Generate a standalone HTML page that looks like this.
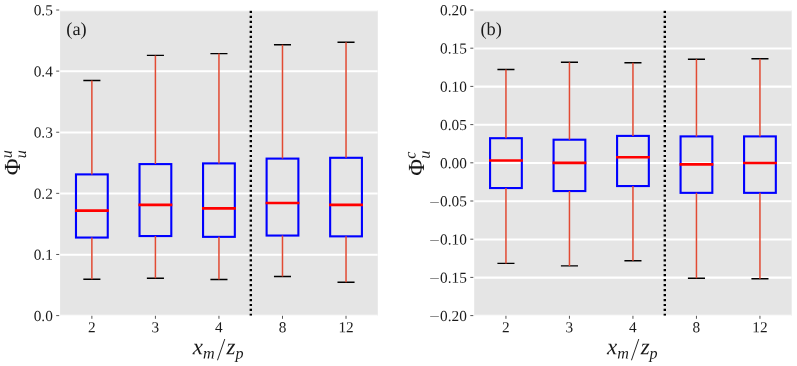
<!DOCTYPE html>
<html><head><meta charset="utf-8"><title>boxplots</title>
<style>
html,body{margin:0;padding:0;background:#fff}
svg{display:block}
text{text-rendering:geometricPrecision;font-family:"Liberation Serif","DejaVu Serif",serif;fill:#1a1a1a}
.t{font-size:15.3px}
.i{font-style:italic}
</style></head><body>
<svg width="797" height="366" viewBox="0 0 797 366">
<rect width="797" height="366" fill="#fff"/>
<clipPath id="c0"><rect x="60.1" y="10.2" width="317.70" height="305.60"/></clipPath>
<rect x="60.1" y="10.2" width="317.70" height="305.60" fill="#e5e5e5"/>
<g clip-path="url(#c0)">
<line x1="60.1" x2="377.8" y1="315.80" y2="315.80" stroke="#fff" stroke-width="2.05"/>
<line x1="60.1" x2="377.8" y1="254.68" y2="254.68" stroke="#fff" stroke-width="2.05"/>
<line x1="60.1" x2="377.8" y1="193.56" y2="193.56" stroke="#fff" stroke-width="2.05"/>
<line x1="60.1" x2="377.8" y1="132.44" y2="132.44" stroke="#fff" stroke-width="2.05"/>
<line x1="60.1" x2="377.8" y1="71.32" y2="71.32" stroke="#fff" stroke-width="2.05"/>
<line x1="60.1" x2="377.8" y1="10.20" y2="10.20" stroke="#fff" stroke-width="2.05"/>
<line x1="250.82" x2="250.82" y1="10.84" y2="315.8" stroke="#000" stroke-width="2.4" stroke-dasharray="2.2 2.767"/>
<path d="M83.33 80.55H100.41M83.33 279.20H100.41" stroke="#000" stroke-width="1.4" fill="none"/>
<rect x="75.98" y="174.40" width="31.77" height="63.15" stroke="#0000ff" stroke-width="2.1" fill="none"/>
<path d="M91.87 80.55V174.40M91.87 237.55V279.20" stroke="#e24a33" stroke-width="1.5" fill="none"/>
<line x1="74.94" x2="108.81" y1="210.60" y2="210.60" stroke="#ff0000" stroke-width="2.6"/>
<path d="M146.87 55.40H163.95M146.87 278.20H163.95" stroke="#000" stroke-width="1.4" fill="none"/>
<rect x="139.53" y="164.10" width="31.77" height="71.95" stroke="#0000ff" stroke-width="2.1" fill="none"/>
<path d="M155.41 55.40V164.10M155.41 236.05V278.20" stroke="#e24a33" stroke-width="1.5" fill="none"/>
<line x1="138.47" x2="172.34" y1="204.85" y2="204.85" stroke="#ff0000" stroke-width="2.6"/>
<path d="M210.41 53.60H227.49M210.41 279.50H227.49" stroke="#000" stroke-width="1.4" fill="none"/>
<rect x="203.06" y="163.40" width="31.77" height="73.45" stroke="#0000ff" stroke-width="2.1" fill="none"/>
<path d="M218.95 53.60V163.40M218.95 236.85V279.50" stroke="#e24a33" stroke-width="1.5" fill="none"/>
<line x1="202.01" x2="235.88" y1="208.35" y2="208.35" stroke="#ff0000" stroke-width="2.6"/>
<path d="M273.95 44.70H291.03M273.95 276.50H291.03" stroke="#000" stroke-width="1.4" fill="none"/>
<rect x="266.61" y="158.60" width="31.77" height="76.95" stroke="#0000ff" stroke-width="2.1" fill="none"/>
<path d="M282.49 44.70V158.60M282.49 235.55V276.50" stroke="#e24a33" stroke-width="1.5" fill="none"/>
<line x1="265.56" x2="299.43" y1="203.05" y2="203.05" stroke="#ff0000" stroke-width="2.6"/>
<path d="M337.49 42.20H354.57M337.49 282.30H354.57" stroke="#000" stroke-width="1.4" fill="none"/>
<rect x="330.15" y="157.80" width="31.77" height="78.55" stroke="#0000ff" stroke-width="2.1" fill="none"/>
<path d="M346.03 42.20V157.80M346.03 236.35V282.30" stroke="#e24a33" stroke-width="1.5" fill="none"/>
<line x1="329.10" x2="362.97" y1="204.85" y2="204.85" stroke="#ff0000" stroke-width="2.6"/>
</g>
<line x1="56.20" x2="59.20" y1="315.60" y2="315.60" stroke="#555" stroke-width="1"/>
<text class="t" transform="translate(52.80,320.95) rotate(0.03)" text-anchor="end">0.0</text>
<line x1="56.20" x2="59.20" y1="254.48" y2="254.48" stroke="#555" stroke-width="1"/>
<text class="t" transform="translate(52.80,259.83) rotate(0.03)" text-anchor="end">0.1</text>
<line x1="56.20" x2="59.20" y1="193.36" y2="193.36" stroke="#555" stroke-width="1"/>
<text class="t" transform="translate(52.80,198.71) rotate(0.03)" text-anchor="end">0.2</text>
<line x1="56.20" x2="59.20" y1="132.24" y2="132.24" stroke="#555" stroke-width="1"/>
<text class="t" transform="translate(52.80,137.59) rotate(0.03)" text-anchor="end">0.3</text>
<line x1="56.20" x2="59.20" y1="71.12" y2="71.12" stroke="#555" stroke-width="1"/>
<text class="t" transform="translate(52.80,76.47) rotate(0.03)" text-anchor="end">0.4</text>
<line x1="56.20" x2="59.20" y1="10.00" y2="10.00" stroke="#555" stroke-width="1"/>
<text class="t" transform="translate(52.80,15.35) rotate(0.03)" text-anchor="end">0.5</text>
<line x1="91.87" x2="91.87" y1="315.8" y2="318.8" stroke="#555" stroke-width="1"/>
<text class="t" transform="translate(91.87,332.3) rotate(0.03)" text-anchor="middle">2</text>
<line x1="155.41" x2="155.41" y1="315.8" y2="318.8" stroke="#555" stroke-width="1"/>
<text class="t" transform="translate(155.41,332.3) rotate(0.03)" text-anchor="middle">3</text>
<line x1="218.95" x2="218.95" y1="315.8" y2="318.8" stroke="#555" stroke-width="1"/>
<text class="t" transform="translate(218.95,332.3) rotate(0.03)" text-anchor="middle">4</text>
<line x1="282.49" x2="282.49" y1="315.8" y2="318.8" stroke="#555" stroke-width="1"/>
<text class="t" transform="translate(282.49,332.3) rotate(0.03)" text-anchor="middle">8</text>
<line x1="346.03" x2="346.03" y1="315.8" y2="318.8" stroke="#555" stroke-width="1"/>
<text class="t" transform="translate(346.03,332.3) rotate(0.03)" text-anchor="middle">12</text>
<text transform="translate(66.30,35) rotate(0.03)" font-size="18.4px">(a)</text>
<text class="i" transform="translate(192.80,354.3) rotate(0.03)" font-size="23px">x</text>
<text class="i" transform="translate(203.10,358.4) rotate(0.03)" font-size="16.1px">m</text>
<text transform="translate(216.90,359.6) rotate(0.03) skewX(-7.5) scale(0.9,1.45)" font-size="22px">/</text>
<text class="i" transform="translate(226.60,354.3) rotate(0.03)" font-size="23px">z</text>
<text class="i" transform="translate(235.50,358.6) rotate(0.03)" font-size="16.1px">p</text>
<g transform="translate(20.1,175.2) rotate(-90.03)"><text x="0" y="0" font-size="23px">Φ</text><text class="i" x="17" y="-8.4" font-size="16.1px">u</text><text class="i" x="17" y="5.8" font-size="16.1px">u</text></g>
<clipPath id="c1"><rect x="474.2" y="10.2" width="317.50" height="305.60"/></clipPath>
<rect x="474.2" y="10.2" width="317.50" height="305.60" fill="#e5e5e5"/>
<g clip-path="url(#c1)">
<line x1="474.2" x2="791.7" y1="315.80" y2="315.80" stroke="#fff" stroke-width="2.05"/>
<line x1="474.2" x2="791.7" y1="277.60" y2="277.60" stroke="#fff" stroke-width="2.05"/>
<line x1="474.2" x2="791.7" y1="239.40" y2="239.40" stroke="#fff" stroke-width="2.05"/>
<line x1="474.2" x2="791.7" y1="201.20" y2="201.20" stroke="#fff" stroke-width="2.05"/>
<line x1="474.2" x2="791.7" y1="163.00" y2="163.00" stroke="#fff" stroke-width="2.05"/>
<line x1="474.2" x2="791.7" y1="124.80" y2="124.80" stroke="#fff" stroke-width="2.05"/>
<line x1="474.2" x2="791.7" y1="86.60" y2="86.60" stroke="#fff" stroke-width="2.05"/>
<line x1="474.2" x2="791.7" y1="48.40" y2="48.40" stroke="#fff" stroke-width="2.05"/>
<line x1="474.2" x2="791.7" y1="10.20" y2="10.20" stroke="#fff" stroke-width="2.05"/>
<line x1="664.80" x2="664.80" y1="10.84" y2="315.8" stroke="#000" stroke-width="2.4" stroke-dasharray="2.2 2.767"/>
<path d="M497.41 69.55H514.49M497.41 263.40H514.49" stroke="#000" stroke-width="1.4" fill="none"/>
<rect x="490.07" y="138.20" width="31.75" height="49.85" stroke="#0000ff" stroke-width="2.1" fill="none"/>
<path d="M505.95 69.55V138.20M505.95 188.05V263.40" stroke="#e24a33" stroke-width="1.5" fill="none"/>
<line x1="489.02" x2="522.88" y1="160.55" y2="160.55" stroke="#ff0000" stroke-width="2.6"/>
<path d="M560.91 62.30H577.99M560.91 265.90H577.99" stroke="#000" stroke-width="1.4" fill="none"/>
<rect x="553.58" y="139.70" width="31.75" height="51.35" stroke="#0000ff" stroke-width="2.1" fill="none"/>
<path d="M569.45 62.30V139.70M569.45 191.05V265.90" stroke="#e24a33" stroke-width="1.5" fill="none"/>
<line x1="552.53" x2="586.38" y1="162.85" y2="162.85" stroke="#ff0000" stroke-width="2.6"/>
<path d="M624.41 62.80H641.49M624.41 260.70H641.49" stroke="#000" stroke-width="1.4" fill="none"/>
<rect x="617.08" y="135.90" width="31.75" height="50.15" stroke="#0000ff" stroke-width="2.1" fill="none"/>
<path d="M632.95 62.80V135.90M632.95 186.05V260.70" stroke="#e24a33" stroke-width="1.5" fill="none"/>
<line x1="616.03" x2="649.88" y1="157.25" y2="157.25" stroke="#ff0000" stroke-width="2.6"/>
<path d="M687.91 59.20H704.99M687.91 278.20H704.99" stroke="#000" stroke-width="1.4" fill="none"/>
<rect x="680.58" y="136.40" width="31.75" height="56.45" stroke="#0000ff" stroke-width="2.1" fill="none"/>
<path d="M696.45 59.20V136.40M696.45 192.85V278.20" stroke="#e24a33" stroke-width="1.5" fill="none"/>
<line x1="679.53" x2="713.38" y1="164.35" y2="164.35" stroke="#ff0000" stroke-width="2.6"/>
<path d="M751.41 58.70H768.49M751.41 278.70H768.49" stroke="#000" stroke-width="1.4" fill="none"/>
<rect x="744.08" y="136.40" width="31.75" height="56.45" stroke="#0000ff" stroke-width="2.1" fill="none"/>
<path d="M759.95 58.70V136.40M759.95 192.85V278.70" stroke="#e24a33" stroke-width="1.5" fill="none"/>
<line x1="743.03" x2="776.88" y1="163.05" y2="163.05" stroke="#ff0000" stroke-width="2.6"/>
</g>
<line x1="470.30" x2="473.30" y1="315.60" y2="315.60" stroke="#555" stroke-width="1"/>
<text class="t" transform="translate(466.90,320.95) rotate(0.03)" text-anchor="end">0.20</text>
<text class="t" transform="translate(439.69,320.27) rotate(0.03) scale(1.22,0.7)" text-anchor="end">−</text>
<line x1="470.30" x2="473.30" y1="277.40" y2="277.40" stroke="#555" stroke-width="1"/>
<text class="t" transform="translate(466.90,282.75) rotate(0.03)" text-anchor="end">0.15</text>
<text class="t" transform="translate(439.69,282.07) rotate(0.03) scale(1.22,0.7)" text-anchor="end">−</text>
<line x1="470.30" x2="473.30" y1="239.20" y2="239.20" stroke="#555" stroke-width="1"/>
<text class="t" transform="translate(466.90,244.55) rotate(0.03)" text-anchor="end">0.10</text>
<text class="t" transform="translate(439.69,243.87) rotate(0.03) scale(1.22,0.7)" text-anchor="end">−</text>
<line x1="470.30" x2="473.30" y1="201.00" y2="201.00" stroke="#555" stroke-width="1"/>
<text class="t" transform="translate(466.90,206.35) rotate(0.03)" text-anchor="end">0.05</text>
<text class="t" transform="translate(439.69,205.67) rotate(0.03) scale(1.22,0.7)" text-anchor="end">−</text>
<line x1="470.30" x2="473.30" y1="162.80" y2="162.80" stroke="#555" stroke-width="1"/>
<text class="t" transform="translate(466.90,168.15) rotate(0.03)" text-anchor="end">0.00</text>
<line x1="470.30" x2="473.30" y1="124.60" y2="124.60" stroke="#555" stroke-width="1"/>
<text class="t" transform="translate(466.90,129.95) rotate(0.03)" text-anchor="end">0.05</text>
<line x1="470.30" x2="473.30" y1="86.40" y2="86.40" stroke="#555" stroke-width="1"/>
<text class="t" transform="translate(466.90,91.75) rotate(0.03)" text-anchor="end">0.10</text>
<line x1="470.30" x2="473.30" y1="48.20" y2="48.20" stroke="#555" stroke-width="1"/>
<text class="t" transform="translate(466.90,53.55) rotate(0.03)" text-anchor="end">0.15</text>
<line x1="470.30" x2="473.30" y1="10.00" y2="10.00" stroke="#555" stroke-width="1"/>
<text class="t" transform="translate(466.90,15.35) rotate(0.03)" text-anchor="end">0.20</text>
<line x1="505.95" x2="505.95" y1="315.8" y2="318.8" stroke="#555" stroke-width="1"/>
<text class="t" transform="translate(505.95,332.3) rotate(0.03)" text-anchor="middle">2</text>
<line x1="569.45" x2="569.45" y1="315.8" y2="318.8" stroke="#555" stroke-width="1"/>
<text class="t" transform="translate(569.45,332.3) rotate(0.03)" text-anchor="middle">3</text>
<line x1="632.95" x2="632.95" y1="315.8" y2="318.8" stroke="#555" stroke-width="1"/>
<text class="t" transform="translate(632.95,332.3) rotate(0.03)" text-anchor="middle">4</text>
<line x1="696.45" x2="696.45" y1="315.8" y2="318.8" stroke="#555" stroke-width="1"/>
<text class="t" transform="translate(696.45,332.3) rotate(0.03)" text-anchor="middle">8</text>
<line x1="759.95" x2="759.95" y1="315.8" y2="318.8" stroke="#555" stroke-width="1"/>
<text class="t" transform="translate(759.95,332.3) rotate(0.03)" text-anchor="middle">12</text>
<text transform="translate(480.40,35) rotate(0.03)" font-size="18.4px">(b)</text>
<text class="i" transform="translate(606.90,354.3) rotate(0.03)" font-size="23px">x</text>
<text class="i" transform="translate(617.20,358.4) rotate(0.03)" font-size="16.1px">m</text>
<text transform="translate(631.00,359.6) rotate(0.03) skewX(-7.5) scale(0.9,1.45)" font-size="22px">/</text>
<text class="i" transform="translate(640.70,354.3) rotate(0.03)" font-size="23px">z</text>
<text class="i" transform="translate(649.60,358.6) rotate(0.03)" font-size="16.1px">p</text>
<g transform="translate(423.9,175.7) rotate(-90.03)"><text x="0" y="0" font-size="23px">Φ</text><text class="i" x="17" y="-8.4" font-size="16.1px">c</text><text class="i" x="17" y="5.8" font-size="16.1px">u</text></g>
</svg>
</body></html>
